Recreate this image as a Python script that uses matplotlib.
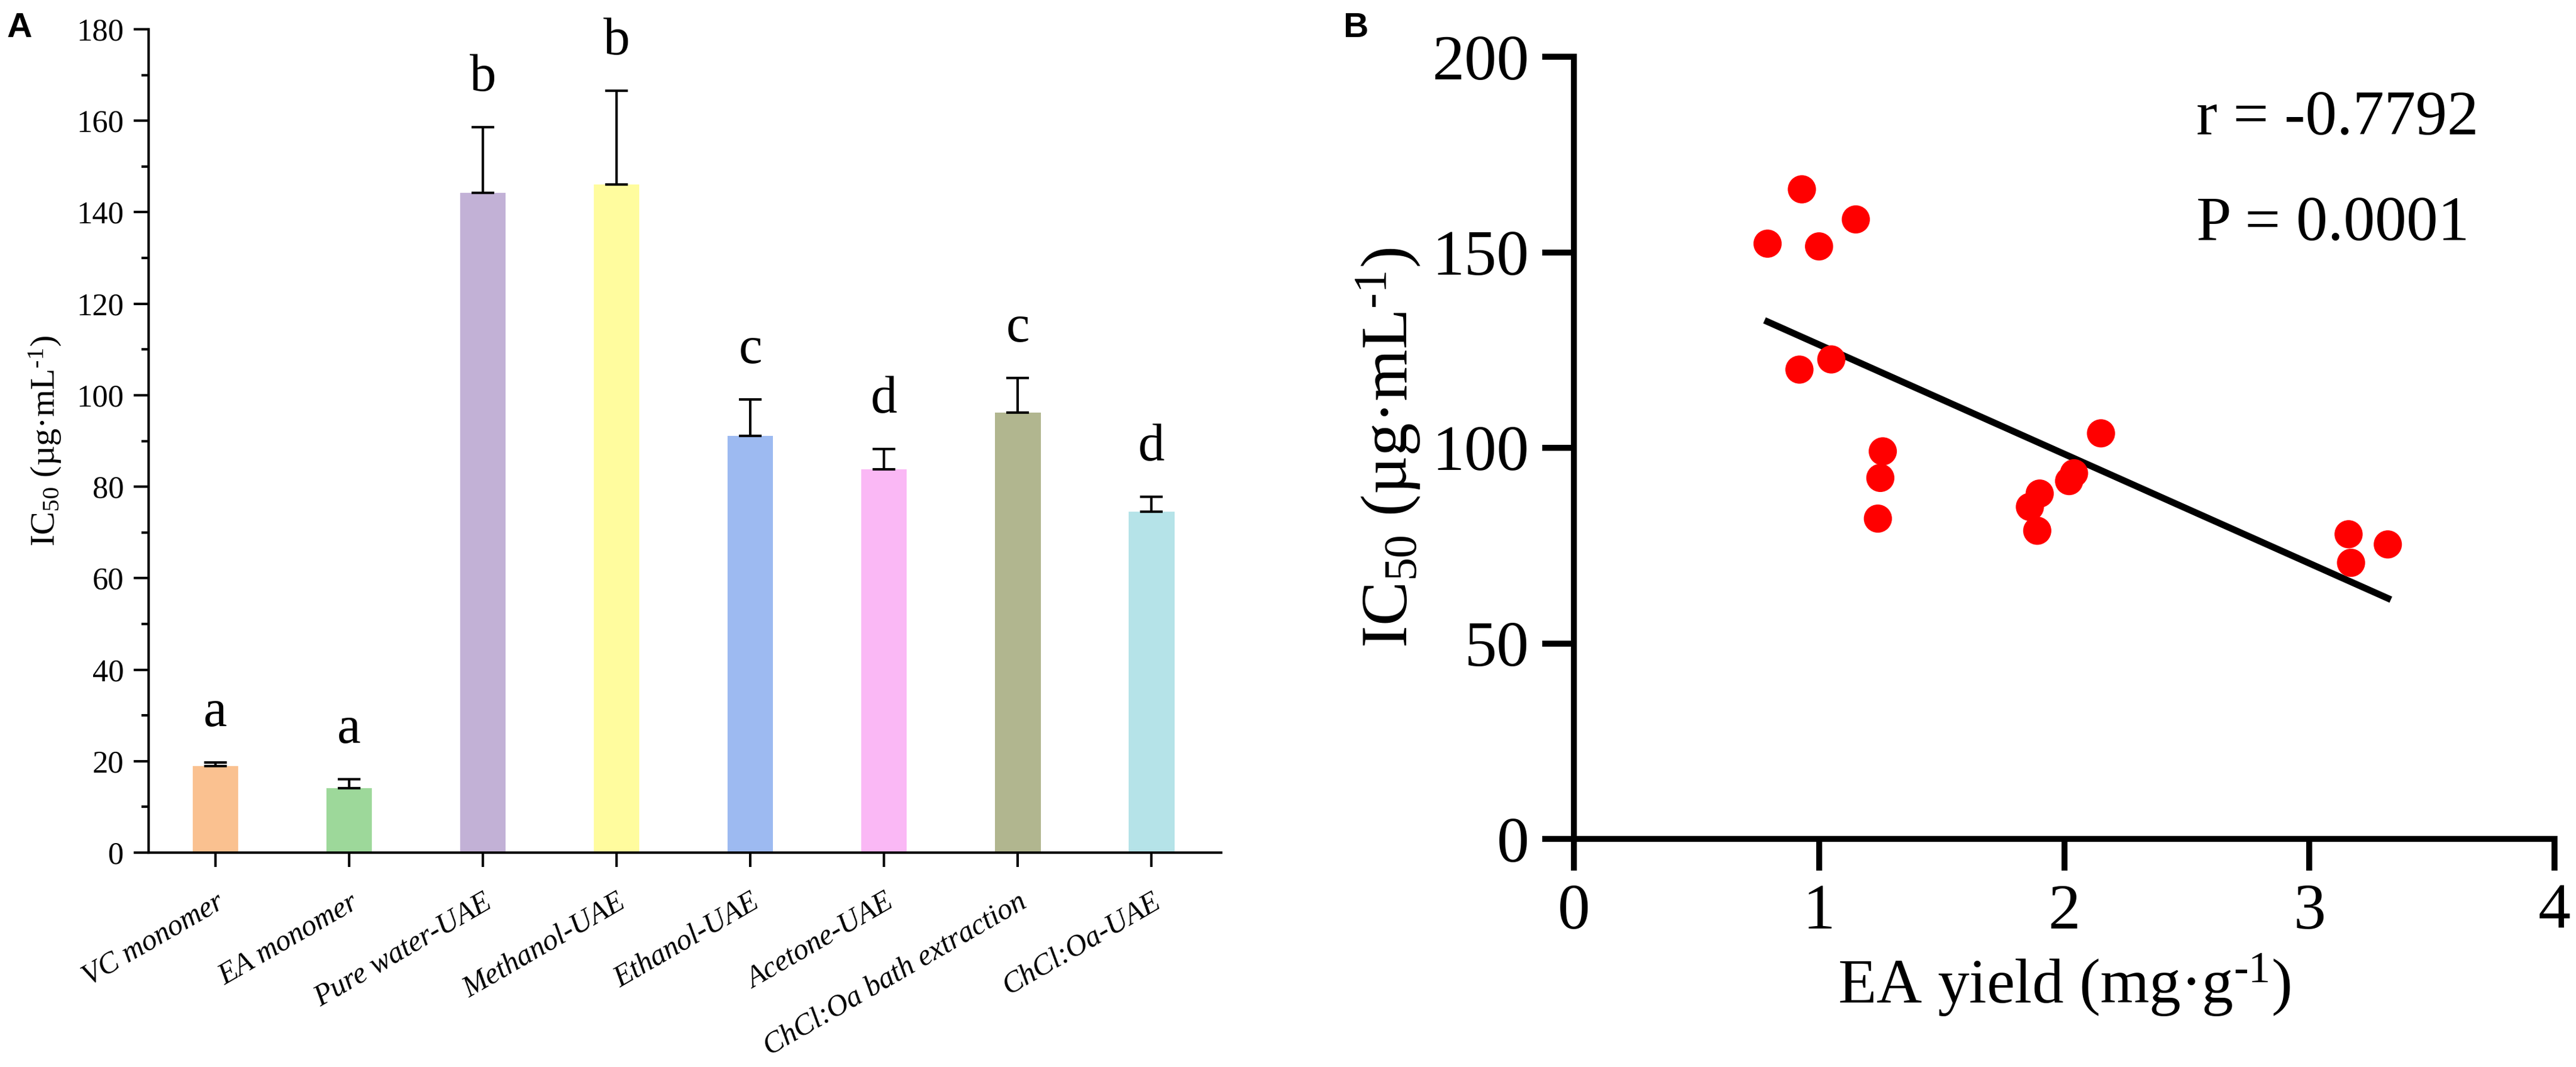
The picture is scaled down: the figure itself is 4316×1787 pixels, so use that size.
import numpy as np
import matplotlib
matplotlib.use('Agg')
import matplotlib.pyplot as plt
import matplotlib.transforms as mtrans
from matplotlib.ticker import MultipleLocator

plt.rcParams['font.family'] = ['Liberation Serif', 'DejaVu Serif']
plt.rcParams['mathtext.fontset'] = 'custom'
plt.rcParams['mathtext.rm'] = 'Liberation Serif'
plt.rcParams['mathtext.it'] = 'Liberation Serif:italic'

# panel A data
groups = ['VC monomer', 'EA monomer', 'Pure water-UAE', 'Methanol-UAE',
          'Ethanol-UAE', 'Acetone-UAE', 'ChCl:Oa bath extraction', 'ChCl:Oa-UAE']
ic50_mean = [18.9, 14.1, 144.2, 146.1, 91.1, 83.8, 96.2, 74.5]
ic50_sd = [0.8, 2.0, 14.4, 20.4, 8.0, 4.4, 7.6, 3.3]
letters = ['a', 'a', 'b', 'b', 'c', 'd', 'c', 'd']
bar_colors = ['#FAC190', '#9DD89A', '#C2B1D6', '#FFFC9E',
              '#9DBAF1', '#FAB8F5', '#B1B68F', '#B5E3E8']

# panel B data
ea_yield = [0.79, 0.93, 1.00, 1.15, 0.92, 1.05, 1.26, 1.25, 1.24,
            1.86, 1.90, 1.89, 2.02, 2.04, 2.15, 3.16, 3.17, 3.32]
ic50_pts = [152.2, 166.1, 151.5, 158.4, 120.0, 122.6, 99.1, 92.3, 81.9,
            84.9, 88.3, 78.8, 91.5, 93.5, 103.7, 77.9, 70.6, 75.3]

W, H, DPI = 4316, 1787, 200
fig = plt.figure(figsize=(W / DPI, H / DPI), dpi=DPI)

ylab = r'IC$_{50}$ (µg·mL$^{\text{-1}}$)'

# ---- panel A ----
axA = fig.add_axes([249 / W, 1 - 1428 / H, (2046 - 249) / W, (1428 - 49) / H])
x = np.arange(len(groups))
axA.bar(x, ic50_mean, width=0.34, color=bar_colors, zorder=2)
axA.errorbar(x, ic50_mean, yerr=[np.zeros(len(x)), ic50_sd], fmt='none',
             ecolor='black', elinewidth=1.5, capsize=7, capthick=1.5, zorder=3)
for xi, m, s, lt in zip(x, ic50_mean, ic50_sd, letters):
    axA.text(xi, m + s + 5.5, lt, ha='center', va='bottom', fontsize=32)
axA.set_xlim(-0.5, 7.52)
axA.set_ylim(0, 180)
axA.yaxis.set_major_locator(MultipleLocator(20))
axA.yaxis.set_minor_locator(MultipleLocator(10))
axA.set_xticks(x)
axA.set_xticklabels(groups, rotation=30, ha='right', rotation_mode='anchor',
                    fontstyle='italic', fontsize=18)
shift = mtrans.ScaledTranslation(8 / 72, 0, fig.dpi_scale_trans)
for lbl in axA.get_xticklabels():
    lbl.set_transform(lbl.get_transform() + shift)
for sp in ['top', 'right']:
    axA.spines[sp].set_visible(False)
for sp in ['left', 'bottom']:
    axA.spines[sp].set_linewidth(1.5)
axA.tick_params(axis='y', which='major', length=9, width=1.5, labelsize=19, pad=6)
axA.tick_params(axis='y', which='minor', length=4.5, width=1.5)
axA.tick_params(axis='x', length=8.5, width=1.5, pad=13)
axA.set_ylabel(ylab, fontsize=21, labelpad=8)

# ---- panel B ----
axB = fig.add_axes([2637 / W, 1 - 1405 / H, (4280 - 2637) / W, (1405 - 95) / H])
axB.scatter(ea_yield, ic50_pts, s=17 ** 2, color='#FF0000', edgecolors='none',
            zorder=3, clip_on=False)
k, b = np.polyfit(ea_yield, ic50_pts, 1)
xf = np.array([min(ea_yield), max(ea_yield)])
axB.plot(xf, k * xf + b, color='black', lw=4, zorder=2)
axB.set_xlim(0, 4)
axB.set_ylim(0, 200)
axB.xaxis.set_major_locator(MultipleLocator(1))
axB.yaxis.set_major_locator(MultipleLocator(50))
for sp in ['top', 'right']:
    axB.spines[sp].set_visible(False)
for sp in ['left', 'bottom']:
    axB.spines[sp].set_linewidth(3.6)
axB.tick_params(length=19, width=3.6, labelsize=39, pad=8)
axB.set_xlabel(r'EA yield (mg·g$^{\text{-1}}$)', fontsize=38, labelpad=6)
axB.set_ylabel(ylab, fontsize=40, labelpad=6)
axB.text(2.54, 184, 'r = -0.7792', fontsize=38, ha='left', va='center')
axB.text(2.54, 157, 'P = 0.0001', fontsize=38, ha='left', va='center')

# panel letters
fig.text(12 / W, 1 - 20 / H, 'A', fontsize=21, fontweight='bold',
         family='Liberation Sans', ha='left', va='top')
fig.text(2250 / W, 1 - 20 / H, 'B', fontsize=21, fontweight='bold',
         family='Liberation Sans', ha='left', va='top')

fig.savefig('out.png', dpi=DPI, facecolor='white')
